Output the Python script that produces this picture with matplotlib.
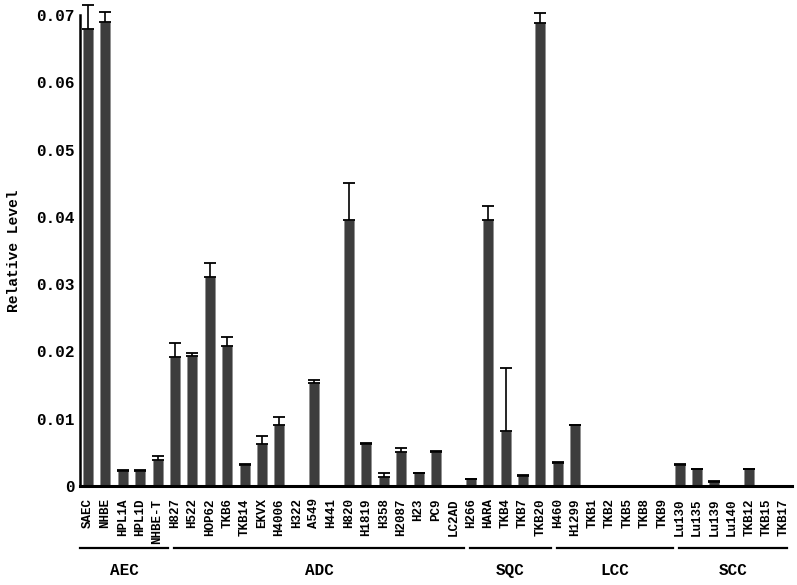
import matplotlib.pyplot as plt
import numpy as np

# cell lines, grouped
names = ["SAEC", "NHBE", "HPL1A", "HPL1D", "NHBE-T",
         "H827", "H522", "HOP62", "TKB6", "TKB14", "EKVX", "H4006", "H322", "A549",
         "H441", "H820", "H1819", "H358", "H2087", "H23", "PC9", "LC2AD",
         "H266", "HARA", "TKB4", "TKB7", "TKB20",
         "H460", "H1299", "TKB1", "TKB2", "TKB5", "TKB8", "TKB9",
         "Lu130", "Lu135", "Lu139", "Lu140", "TKB12", "TKB15", "TKB17"]
values = [0.0679, 0.0690, 0.0023, 0.0023, 0.0038,
          0.0191, 0.0193, 0.0310, 0.0208, 0.0031, 0.0063, 0.0090, 0.0, 0.0153,
          0.0001, 0.0395, 0.0063, 0.0013, 0.0050, 0.0019, 0.0051, 0.00005,
          0.0010, 0.0396, 0.0081, 0.0015, 0.0688,
          0.0034, 0.0090, 0.0, 0.0, 0.0, 0.0, 0.0,
          0.0031, 0.0025, 0.0006, 0.0, 0.0025, 0.0001, 0.0]
errors = [0.0036, 0.0015, 0.0001, 0.0001, 0.0006,
          0.0021, 0.0005, 0.0022, 0.0013, 0.0001, 0.0011, 0.0013, 0.0, 0.0004,
          0.0, 0.0055, 0.0001, 0.0007, 0.0007, 0.0001, 0.0001, 0.0,
          0.0001, 0.0020, 0.0095, 0.0001, 0.0015,
          0.0001, 0.0001, 0.0, 0.0, 0.0, 0.0, 0.0,
          0.0001, 0.0001, 0.0001, 0.0, 0.0001, 0.0, 0.0]
groups = ["AEC", "ADC", "SQC", "LCC", "SCC"]
group_sizes = [5, 17, 5, 7, 7]

mono = "Liberation Mono"

fig = plt.figure(figsize=(7.97, 5.85), dpi=100)
ax = fig.add_axes([80/797, 1-486/585, 712/797, 471/585])

x = np.arange(len(names))
ax.bar(x, values, width=0.58, color="#3d3d3d", edgecolor="#8a8a8a", linewidth=0.4, zorder=2)
mask = np.array(errors) > 0
ax.errorbar(x[mask], np.array(values)[mask], yerr=[np.zeros(mask.sum()), np.array(errors)[mask]],
            fmt="none", ecolor="black", elinewidth=1.2, capsize=4.3, capthick=1.3,
            clip_on=False, zorder=3)

ax.set_xlim(-0.46, 40.46)
ax.set_ylim(0, 0.07)
ax.set_yticks(np.arange(0, 0.071, 0.01))
ax.set_yticklabels(["0", "0.01", "0.02", "0.03", "0.04", "0.05", "0.06", "0.07"],
                   fontfamily=mono, fontweight="bold", fontsize=11.5)
ax.set_xticks(x)
ax.set_xticklabels(names, rotation=90, fontfamily=mono, fontweight="bold", fontsize=9)
ax.tick_params(axis="both", length=0, pad=4)
ax.tick_params(axis="x", pad=9)
ax.set_ylabel("Relative Level", fontfamily=mono, fontweight="bold", fontsize=10.5)
ax.yaxis.set_label_coords(-0.083, 0.5)

for s in ["top", "right"]:
    ax.spines[s].set_visible(False)
ax.spines["left"].set_linewidth(1.8)
ax.spines["bottom"].set_linewidth(2.2)

# group lines and labels
start = 0
for i, (g, n) in enumerate(zip(groups, group_sizes)):
    x0 = -0.46 if i == 0 else start - 0.05
    x1 = min(start + n - 1 + 0.6, 40.2)
    ax.plot([x0, x1], [-0.0092, -0.0092], color="black", lw=1.6, clip_on=False)
    ax.text((x0 + x1) / 2, -0.0126, g, ha="center", va="center",
            fontfamily=mono, fontweight="bold", fontsize=11.5)
    start += n

fig.savefig("out.png", dpi=100)
